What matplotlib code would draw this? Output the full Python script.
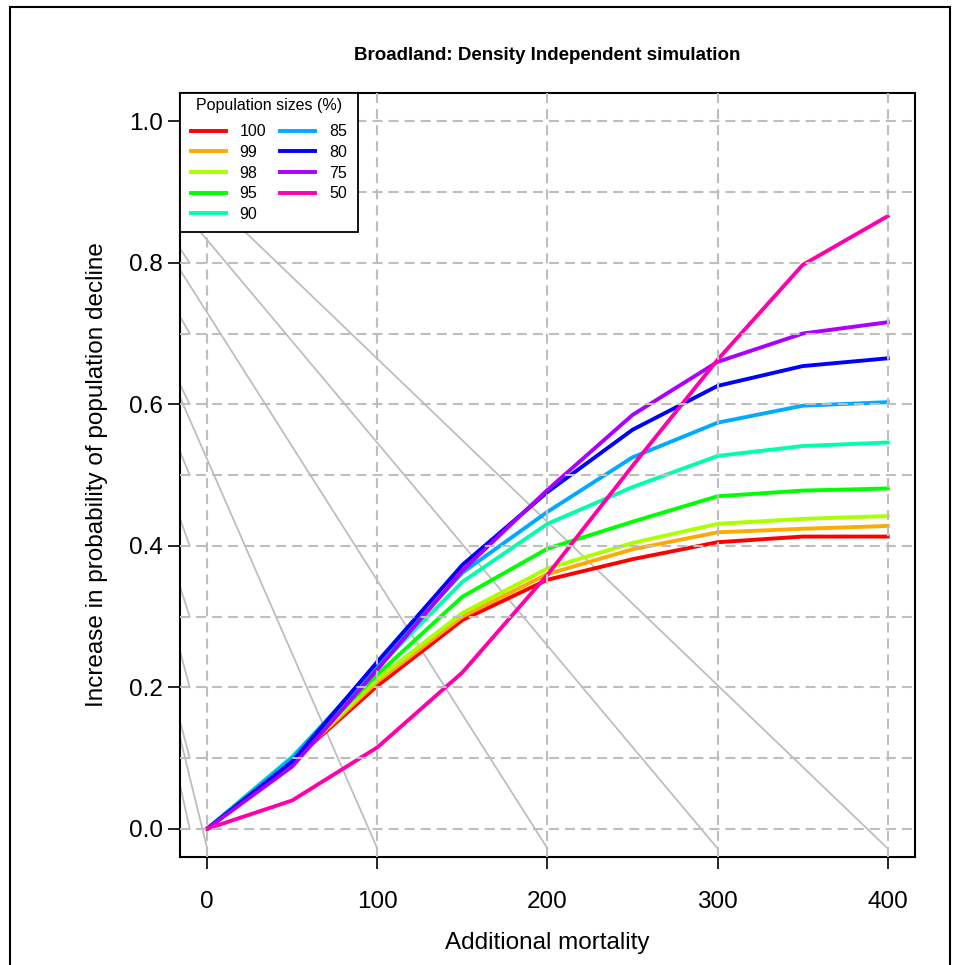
import numpy as np
import matplotlib.pyplot as plt
from matplotlib.patches import Rectangle

plt.rcParams['font.family'] = ['Liberation Sans', 'DejaVu Sans']

# additional mortality
x = [0, 50, 100, 150, 200, 250, 300, 350, 400]

# increase in probability of decline, by population size (%)
p100 = [0, 0.095, 0.202, 0.295, 0.352, 0.381, 0.405, 0.413, 0.413]
p99 = [0, 0.095, 0.208, 0.300, 0.360, 0.395, 0.419, 0.424, 0.428]
p98 = [0, 0.096, 0.212, 0.305, 0.368, 0.404, 0.431, 0.438, 0.442]
p95 = [0, 0.098, 0.218, 0.328, 0.396, 0.434, 0.470, 0.478, 0.481]
p90 = [0, 0.102, 0.228, 0.349, 0.431, 0.483, 0.527, 0.541, 0.546]
p85 = [0, 0.100, 0.232, 0.362, 0.448, 0.525, 0.574, 0.598, 0.603]
p80 = [0, 0.095, 0.236, 0.373, 0.476, 0.564, 0.626, 0.654, 0.665]
p75 = [0, 0.088, 0.225, 0.365, 0.479, 0.585, 0.660, 0.700, 0.716]
p50 = [0, 0.040, 0.115, 0.221, 0.359, 0.513, 0.663, 0.797, 0.866]

labels = ["100", "99", "98", "95", "90", "85", "80", "75", "50"]
series = [p100, p99, p98, p95, p90, p85, p80, p75, p50]
colors = ["#FF0000", "#FFAA00", "#AAFF00", "#00FF00", "#00FFAA",
          "#00AAFF", "#0000FF", "#AA00FF", "#FF00AA"]

# grey background lines: start on left edge, end below the x axis
ref_y_start = [0.129, 0.61, 0.79, 0.878, 0.932]
ref_x_end = [0, 100, 200, 300, 400]
ref_y_end = -0.028

# short grey stubs ending at each gridline
stub_y = [0.0, 0.1, 0.2, 0.3, 0.4, 0.5, 0.6, 0.7, 0.8, 0.9, 1.0]
stub_drop = [0.062, 0.052, 0.051, 0.042, 0.038, 0.033, 0.028, 0.024, 0.020, 0.017, 0.015]

fig = plt.figure(figsize=(9.59, 9.65), dpi=100)
ax = fig.add_axes([0.1877, 0.1119, 0.7664, 0.7917])

x0 = -16
for ys, xe in zip(ref_y_start, ref_x_end):
    ax.plot([x0, xe], [ys, ref_y_end], color="#BEBEBE", lw=1.3, zorder=1)
for g, d in zip(stub_y, stub_drop):
    ax.plot([x0, -10.3], [g + d, g], color="#BEBEBE", lw=1.3, zorder=1)

handles = []
for s, c, lab in zip(series, colors, labels):
    h, = ax.plot(x, s, color=c, lw=2.8, label=lab, zorder=2,
                 solid_joinstyle="miter")
    handles.append(h)

# dashed grid drawn on top of the curves
dash = (0, (4.8, 2.9))
for gx in [0, 100, 200, 300, 400]:
    ax.axvline(gx, color="#BEBEBE", lw=1.5, ls=dash, zorder=3)
for gy in np.arange(0, 1.01, 0.1):
    ax.axhline(gy, color="#BEBEBE", lw=1.5, ls=dash, zorder=3)

ax.set_xlim(-16, 416)
ax.set_ylim(-0.04, 1.04)
ax.set_xticks([0, 100, 200, 300, 400])
ax.set_yticks([0, 0.2, 0.4, 0.6, 0.8, 1.0])
ax.set_yticklabels(["0.0", "0.2", "0.4", "0.6", "0.8", "1.0"])
ax.tick_params(axis="both", labelsize=17.5, length=8.6, width=1.2)
ax.tick_params(axis="x", pad=16)
ax.tick_params(axis="y", pad=4)
for sp in ax.spines.values():
    sp.set_linewidth(1.5)

leg = ax.legend(handles=handles, ncol=2, loc="upper left", borderaxespad=0,
                title="Population sizes (%)", fontsize=11.5, title_fontsize=11.5,
                fancybox=False, framealpha=1, edgecolor="black",
                handlelength=2.2, handletextpad=0.84, columnspacing=0.9,
                labelspacing=0.35, borderpad=0.3)
leg.get_frame().set_linewidth(1.3)
leg.set_zorder(5)
leg._legend_handle_box.pad = 4.3
leg._legend_box.sep = 4

fig.text(0.571, 0.942, "Broadland: Density Independent simulation",
         ha="center", va="center", fontsize=13.5, fontweight="bold")
fig.text(0.571, 0.0228, "Additional mortality", ha="center", va="center",
         fontsize=17.5)
fig.text(0.101, 0.5078, "Increase in probability of population decline",
         ha="center", va="center", rotation=90, fontsize=17.5)

# outer frame
fig.patches.append(Rectangle((10 / 959, -0.05), 940 / 959, 1.05 - 7 / 965,
                             transform=fig.transFigure, fill=False,
                             edgecolor="black", lw=1.5))

fig.savefig("out.png", dpi=100)
